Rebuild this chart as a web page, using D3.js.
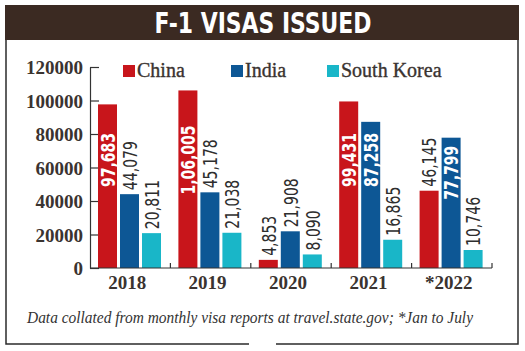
<!DOCTYPE html>
<html>
<head>
<meta charset="utf-8">
<script src="https://cdn.jsdelivr.net/npm/d3@7"></script>
<style>
  body { margin: 0; background: #fff; }
  svg { display: block; }
</style>
</head>
<body>
<div id="chart"></div>
<script>
// data
var years = ["2018", "2019", "2020", "2021", "*2022"];
var series = ["China", "India", "South Korea"];
var china = [97683, 106005, 4853, 99431, 46145];
var india = [44079, 45178, 21908, 87258, 77799];
var korea = [20811, 21038, 8090, 16865, 10746];
var yTicks = [0, 20000, 40000, 60000, 80000, 100000, 120000];
var colors = ["#c8151b", "#0d5795", "#19b6c8"];

var W = 525, H = 351;
var svg = d3.select("#chart").append("svg")
    .attr("width", W)
    .attr("height", H);

// title bar
svg.append("rect")
    .attr("x", 5).attr("y", 5)
    .attr("width", 514).attr("height", 35)
    .attr("fill", "#3b2a22");
svg.append("text")
    .attr("x", 263).attr("y", 33)
    .attr("text-anchor", "middle")
    .attr("font-family", "'DejaVu Sans Condensed', sans-serif")
    .attr("font-weight", "bold")
    .attr("font-size", "28px")
    .attr("fill", "#fff")
    .attr("textLength", 217)
    .attr("lengthAdjust", "spacingAndGlyphs")
    .text("F-1 VISAS ISSUED");

// frame round the chart, with a gap in the bottom edge
svg.append("path")
    .attr("d", "M6,40 V344 H249 M276,344 H518 V40")
    .attr("fill", "none")
    .attr("stroke", "#2b2b2b")
    .attr("stroke-width", 1.5);

// scales
var x = d3.scaleBand().domain(years).range([90, 492]);
var xs = d3.scaleBand().domain(series).range([8, 71]).paddingInner(3 / 22);
var y = d3.scaleLinear().domain([0, 120000]).range([268, 67]);

var serif = "'Liberation Serif', 'DejaVu Serif', serif";
var narrow = "'DejaVu Sans Condensed', sans-serif";
var squeeze = 0.78; // condensed look of the value labels

// y axis
var yAxis = svg.append("g")
    .attr("transform", "translate(90,0)")
    .call(d3.axisLeft(y).tickValues(yTicks).tickFormat(d3.format("d"))
        .tickSizeInner(-9).tickSizeOuter(0).tickPadding(7));
yAxis.selectAll("path, line").attr("stroke", "#333").attr("stroke-width", 1.2);
yAxis.selectAll("text")
    .attr("font-family", serif)
    .attr("font-weight", "bold")
    .attr("font-size", "19px")
    .attr("fill", "#3a3330")
    .attr("dy", "0.36em");

// rows for the bars
var rows = [];
years.forEach(function(yr, i) {
    [china, india, korea].forEach(function(arr, j) {
        rows.push({year: yr, s: series[j], v: arr[i], c: colors[j]});
    });
});

svg.append("g").selectAll("rect")
    .data(rows)
    .enter()
    .append("rect")
    .attr("x", function(d) { return x(d.year) + xs(d.s); })
    .attr("y", function(d) { return y(d.v); })
    .attr("width", xs.bandwidth())
    .attr("height", function(d) { return y(0) - y(d.v); })
    .attr("fill", function(d) { return d.c; });

// x axis baseline and ticks between groups
svg.append("line")
    .attr("x1", 90).attr("x2", x.range()[1])
    .attr("y1", y(0)).attr("y2", y(0))
    .attr("stroke", "#333").attr("stroke-width", 1.2);
svg.append("g").selectAll("line")
    .data(years)
    .enter()
    .append("line")
    .attr("x1", function(d) { return x(d) + x.bandwidth(); })
    .attr("x2", function(d) { return x(d) + x.bandwidth(); })
    .attr("y1", y(0)).attr("y2", y(0) - 5)
    .attr("stroke", "#333").attr("stroke-width", 1.2);

svg.append("g").selectAll("text")
    .data(years)
    .enter()
    .append("text")
    .attr("x", function(d) { return x(d) + x.bandwidth() / 2 - 3; })
    .attr("y", 289)
    .attr("text-anchor", "middle")
    .attr("font-family", serif)
    .attr("font-weight", "bold")
    .attr("font-size", "19px")
    .attr("fill", "#3a3330")
    .text(function(d) { return d; });

// indian style grouping: 1,06,005
function fmt(n) {
    var s = String(n);
    if (s.length <= 3) return s;
    var last = s.slice(-3), rest = s.slice(0, -3);
    rest = rest.replace(/\B(?=(\d{2})+(?!\d))/g, ",");
    return rest + "," + last;
}

// value labels, big bars get white text inside
var labels = svg.append("g").selectAll("text")
    .data(rows)
    .enter()
    .append("text")
    .attr("font-family", narrow)
    .attr("font-size", "20px")
    .attr("dy", "0.36em")
    .attr("fill", function(d) { return d.v > 50000 ? "#fff" : "#2e2e2e"; })
    .attr("font-weight", function(d) { return d.v > 50000 ? "bold" : "normal"; })
    .text(function(d) { return fmt(d.v); });

labels.each(function(d) {
    var el = d3.select(this);
    var len = this.getComputedTextLength() * squeeze;
    var cx = x(d.year) + xs(d.s) + xs.bandwidth() / 2;
    if (d.v > 50000) {
        var mid = Math.max(160, y(d.v) + len / 2 + 8);
        el.attr("text-anchor", "middle")
          .attr("transform", "translate(" + cx + "," + mid + ") rotate(-90) scale(" + squeeze + ",1)");
    } else {
        el.attr("text-anchor", "start")
          .attr("transform", "translate(" + cx + "," + (y(d.v) - 4) + ") rotate(-90) scale(" + squeeze + ",1)");
    }
});

// legend
var legX = [123, 231, 327];
var leg = svg.append("g").selectAll("g")
    .data(series)
    .enter()
    .append("g")
    .attr("transform", function(d, i) { return "translate(" + legX[i] + ",65)"; });
leg.append("rect")
    .attr("width", 12).attr("height", 12)
    .attr("fill", function(d, i) { return colors[i]; });
leg.append("text")
    .attr("x", 14).attr("y", 12)
    .attr("font-family", serif)
    .attr("font-size", "20px")
    .attr("fill", "#3a3330")
    .attr("stroke", "#3a3330")
    .attr("stroke-width", 0.35)
    .text(function(d) { return d; });

// footnote
svg.append("text")
    .attr("x", 27).attr("y", 323)
    .attr("font-family", serif)
    .attr("font-style", "italic")
    .attr("font-size", "17px")
    .attr("fill", "#333")
    .attr("textLength", 446)
    .attr("lengthAdjust", "spacingAndGlyphs")
    .text("Data collated from monthly visa reports at travel.state.gov; *Jan to July");
</script>
</body>
</html>
